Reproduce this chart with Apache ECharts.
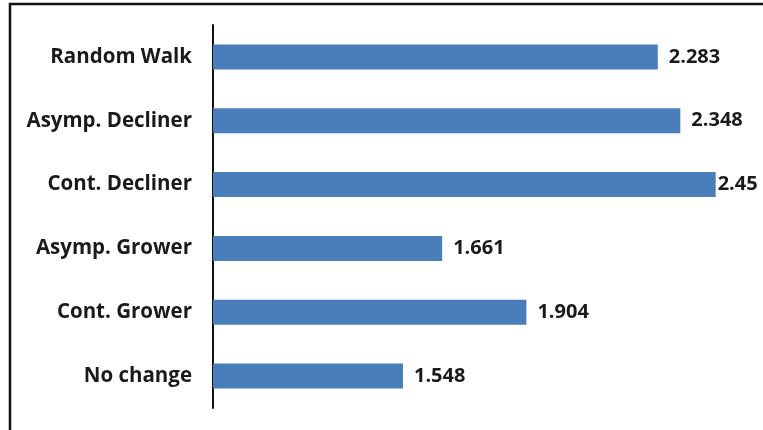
<!DOCTYPE html>
<html>
<head>
<meta charset="utf-8">
<script src="https://cdn.jsdelivr.net/npm/echarts@6/dist/echarts.min.js"></script>
<style>
  html, body { margin: 0; padding: 0; background: #fff; }
  #chart { width: 763px; height: 430px; }
</style>
</head>
<body>
<div id="chart"></div>
<script>
// Categories listed bottom to top, as the category axis draws them
const categories = ['No change', 'Cont. Grower', 'Asymp. Grower', 'Cont. Decliner', 'Asymp. Decliner', 'Random Walk'];
const values = [1.548, 1.904, 1.661, 2.45, 2.348, 2.283];

const chart = echarts.init(document.getElementById('chart'));

const barData = values.map(function (v) {
  const item = { value: v };
  // The longest bar's label sits tight against the bar end
  if (v === Math.max.apply(null, values)) {
    item.label = { distance: 2 };
  }
  return item;
});

chart.setOption({
  animation: false,
  backgroundColor: '#ffffff',
  graphic: [{
    type: 'rect',
    shape: { x: 10, y: 4, width: 800, height: 480 },
    style: { fill: 'none', stroke: '#111', lineWidth: 2.5 },
    silent: true
  }],
  grid: { left: 213, right: 30, top: 25, bottom: 22, containLabel: false },
  xAxis: {
    type: 'value',
    min: 1,
    max: 2.5,
    show: false
  },
  yAxis: {
    type: 'category',
    data: categories,
    axisLine: { show: true, lineStyle: { color: '#111', width: 2 } },
    axisTick: { show: false },
    axisLabel: {
      margin: 21,
      color: '#1a1a1a',
      fontFamily: 'Open Sans',
      fontWeight: 'bold',
      fontSize: 20.5
    },
    splitLine: { show: false }
  },
  series: [{
    type: 'bar',
    data: barData,
    barWidth: 25,
    itemStyle: { color: '#4A7EBB' },
    label: {
      show: true,
      position: 'right',
      distance: 11,
      color: '#1a1a1a',
      fontFamily: 'Open Sans',
      fontWeight: 'bold',
      fontSize: 20
    }
  }]
});
</script>
</body>
</html>
